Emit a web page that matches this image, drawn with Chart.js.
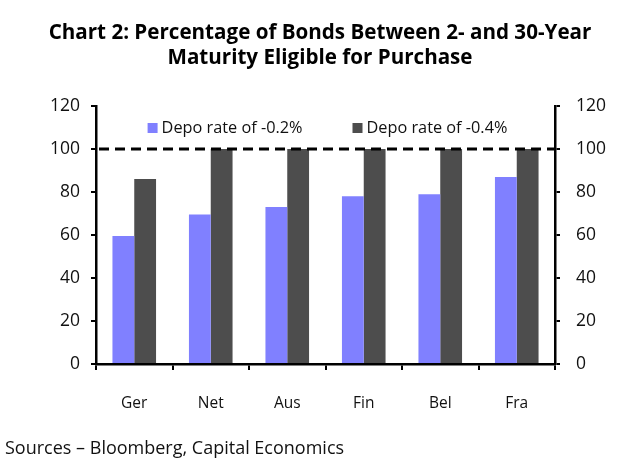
<!DOCTYPE html>
<html>
<head>
<meta charset="utf-8">
<script src="https://cdn.jsdelivr.net/npm/chart.js@4.4.1/dist/chart.umd.min.js"></script>
<style>
  html, body { margin: 0; padding: 0; background: #fff; }
  #wrap { position: relative; width: 640px; height: 461px; overflow: hidden; }
  #title { position: absolute; left: 0; top: 19px; width: 640px; text-align: center;
           font-family: "Open Sans", sans-serif; font-weight: bold; font-size: 20.6px; line-height: 25px; color: #000; }
  #src { position: absolute; left: 5px; top: 435px; font-family: "Open Sans", sans-serif; font-size: 18px; color: #111; }
  canvas { position: absolute; left: 0; top: 0; }
</style>
</head>
<body>
<div id="wrap">
  <canvas id="c" width="640" height="461"></canvas>
  <div id="title">Chart 2: Percentage of Bonds Between 2- and 30-Year<br>Maturity Eligible for Purchase</div>
  <div id="src">Sources – Bloomberg, Capital Economics</div>
</div>
<script>
const categories = ["Ger", "Net", "Aus", "Fin", "Bel", "Fra"];
const depo02 = [59.5, 69.5, 73, 78, 79, 87];
const depo04 = [86, 100, 100, 100, 100, 100];
const seriesNames = ["Depo rate of -0.2%", "Depo rate of -0.4%"];
const yTicks = [0, 20, 40, 60, 80, 100, 120];
const thresholdValue = 100;

const FONT = "'Open Sans', sans-serif";

const dashedLine = {
  id: 'dashedLine',
  afterDatasetsDraw(chart) {
    const { ctx, chartArea, scales } = chart;
    const y = scales.y.getPixelForValue(thresholdValue);
    ctx.save();
    ctx.strokeStyle = '#000';
    ctx.lineWidth = 3;
    ctx.setLineDash([10, 6]);
    ctx.lineDashOffset = 13;
    ctx.beginPath();
    ctx.moveTo(chartArea.left, y);
    ctx.lineTo(chartArea.right, y);
    ctx.stroke();
    ctx.restore();
  }
};

const innerLegend = {
  id: 'innerLegend',
  afterDraw(chart) {
    const { ctx, chartArea } = chart;
    const box = 10, textGap = 4, itemGap = 50;
    ctx.save();
    ctx.font = "16.3px " + FONT;
    ctx.textBaseline = 'middle';
    const items = chart.data.datasets.map(ds => ({ label: ds.label, color: ds.backgroundColor, w: box + textGap + ctx.measureText(ds.label).width }));
    const total = items.reduce((s, it) => s + it.w, 0) + itemGap * (items.length - 1);
    let x = (chartArea.left + chartArea.right) / 2 - total / 2 + 2;
    const y = chartArea.top + 22;
    items.forEach(it => {
      ctx.fillStyle = it.color;
      ctx.fillRect(x, y - box / 2, box, box);
      ctx.fillStyle = '#111';
      ctx.fillText(it.label, x + box + textGap, y);
      x += it.w + itemGap;
    });
    ctx.restore();
  }
};

new Chart(document.getElementById('c'), {
  type: 'bar',
  data: {
    labels: categories,
    datasets: [
      { label: seriesNames[0], data: depo02, backgroundColor: '#8080FF', categoryPercentage: 0.57, barPercentage: 1.0 },
      { label: seriesNames[1], data: depo04, backgroundColor: '#4D4D4D', categoryPercentage: 0.57, barPercentage: 1.0 }
    ]
  },
  options: {
    responsive: false,
    animation: false,
    devicePixelRatio: 1,
    layout: { padding: { top: 106, left: 0, right: 0, bottom: 0 } },
    plugins: {
      title: { display: false },
      tooltip: { enabled: false },
      legend: { display: false }
    },
    scales: {
      x: {
        grid: { display: true, drawOnChartArea: false, drawTicks: true, tickLength: 6, color: '#000', lineWidth: 2, offset: true },
        border: { display: true, color: '#000', width: 2.5 },
        ticks: { font: { family: FONT, size: 15.5 }, color: '#111', padding: 24 },
        afterFit(scale) { scale.height = 97; }
      },
      y: {
        position: 'left',
        min: 0, max: 120,
        afterBuildTicks(scale) { scale.ticks = yTicks.map(v => ({ value: v })); },
        grid: { display: true, drawOnChartArea: false, drawTicks: true, tickLength: 5, color: '#000', lineWidth: 2 },
        border: { display: true, color: '#000', width: 2.5 },
        ticks: { font: { family: FONT, size: 17.5 }, color: '#111', padding: 11 },
        afterFit(scale) { scale.width = 96; }
      },
      y2: {
        position: 'right',
        min: 0, max: 120,
        afterBuildTicks(scale) { scale.ticks = yTicks.map(v => ({ value: v })); },
        grid: { display: true, drawOnChartArea: false, drawTicks: true, tickLength: 5, color: '#000', lineWidth: 2 },
        border: { display: true, color: '#000', width: 2.5 },
        ticks: { font: { family: FONT, size: 17.5 }, color: '#111', padding: 16 },
        afterFit(scale) { scale.width = 85; }
      }
    }
  },
  plugins: [dashedLine, innerLegend]
});
</script>
</body>
</html>
